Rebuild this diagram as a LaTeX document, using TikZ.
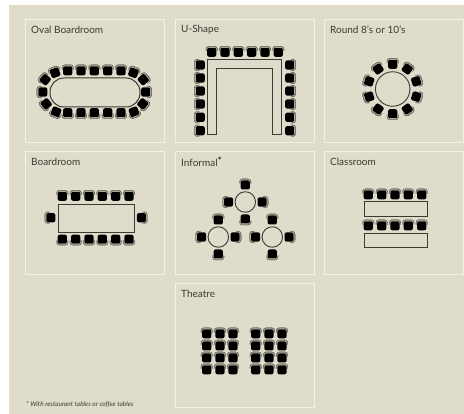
\documentclass[tikz,border=0pt]{standalone}
\usepackage{fontspec}
\setmainfont{Lato}
\definecolor{roombg}{HTML}{DFDCCB}
\definecolor{roomedge}{HTML}{F3F1E6}
\definecolor{ink}{HTML}{3C3A32}
\definecolor{chairback}{HTML}{9A978A}
\begin{document}
\begin{tikzpicture}[
            x=1pt,
            y=-1pt,
            panel/.style={
                draw=roomedge,
                line width=1pt,
                fill=roombg,
                anchor=north west,
                minimum width=139pt,
                minimum height=123pt,
                inner sep=0pt
            },
            title/.style={
                anchor=west,
                text=ink,
                inner sep=0pt,
                font=\fontsize{10}{12}\selectfont
            },
            desk/.style={
                rectangle,
                draw=ink,
                line width=1pt,
                anchor=north west,
                inner sep=0pt
            },
            roundtable/.style={
                circle,
                draw=ink,
                line width=0.9pt,
                inner sep=0pt
            },
            chair/.pic={
                \draw[chairback, line width=1.1pt, rounded corners=3pt]
                    (-5.5,-0.5) -- (-5.5,-5.2) -- (5.5,-5.2) -- (5.5,-0.5);
                \draw[ink, line width=0.3pt, rounded corners=3pt]
                    (-5.8,-2) -- (-5.8,-5.8) -- (5.8,-5.8) -- (5.8,-2);
                \fill[black, rounded corners=2pt] (-4.6,-4.2) rectangle (4.6,4.8);
            }
        ]

            \fill[white] (0,0) rectangle (464,414);
            \fill[roombg] (9,5) rectangle (464,414);
            \useasboundingbox (0,0) rectangle (464,414);

            \node[panel] (oval) at (25,19) {};
            \node[panel] (ushape) at (174.5,19) {};
            \node[panel] (round) at (323.5,19) {};
            \node[panel] (board) at (25,151) {};
            \node[panel] (informal) at (174.5,151) {};
            \node[panel] (class) at (323.5,151) {};
            \node[panel, minimum height=124pt] (theatre) at (174.5,283) {};

            \node[title] (ovallabel) at (31,30) {Oval Boardroom};
            \node[title] (ushapelabel) at (181,30) {U-Shape};
            \node[title] (roundlabel) at (330,30) {Round 8's or 10's};
            \node[title] (boardlabel) at (31,162) {Boardroom};
            \node[title] (informallabel) at (181,162) {Informal\raisebox{2pt}{\textbf{*}}};
            \node[title] (classlabel) at (330,162) {Classroom};
            \node[title] (theatrelabel) at (181,294) {Theatre};
            \node[title, font=\fontsize{6.5}{8}\selectfont\itshape] (note) at (26,404)
                {* With restaurant tables or coffee tables};

            \node[desk, anchor=center, rounded corners=14pt, minimum width=90pt, minimum height=29pt]
                (ovaltable) at (95,92.5) {};
            \foreach \x in {67.7,81,94.3,107.7,121} {
                \pic at (\x,70.5) {chair};
                \pic[rotate=180] at (\x,113) {chair};
            }
            \pic[rotate=20] at (55,72.5) {chair};
            \pic[rotate=-20] at (133.5,72.5) {chair};
            \pic[rotate=50] at (45,79.5) {chair};
            \pic[rotate=-50] at (143.5,79.5) {chair};
            \pic[rotate=90] at (42.5,92) {chair};
            \pic[rotate=-90] at (146,92) {chair};
            \pic[rotate=130] at (46,104) {chair};
            \pic[rotate=-130] at (143,104) {chair};
            \pic[rotate=160] at (56,112) {chair};
            \pic[rotate=-160] at (134,112) {chair};

            \draw[ink, line width=1pt] (207.5,60) -- (281.5,60) -- (281.5,135) -- (272.5,135)
                -- (272.5,68.5) -- (216,68.5) -- (216,135) -- (207.5,135) -- cycle;
            \foreach \x in {211.7,225,238.3,251.7,265,278.3} {
                \pic at (\x,52) {chair};
            }
            \foreach \y in {65,78,91,104,117.3,130.7} {
                \pic[rotate=90] at (200,\y) {chair};
                \pic[rotate=-90] at (290,\y) {chair};
            }

            \node[roundtable, minimum size=34.5pt] (roundtop) at (392.7,89) {};
            \foreach \a in {0,36,...,324} {
                \pic[rotate=\a] at ({392.7-25*sin(\a)},{89-25*cos(\a)}) {chair};
            }

            \node[desk, minimum width=75.5pt, minimum height=28.5pt] (boardtable) at (58.3,204) {};
            \foreach \x in {62.3,75.7,89,102.3,115.7,129} {
                \pic at (\x,196) {chair};
                \pic[rotate=180] at (\x,239.5) {chair};
            }
            \pic[rotate=90] at (50.5,217.7) {chair};
            \pic[rotate=-90] at (141.7,217.7) {chair};

            \node[roundtable, minimum size=20.5pt] (infotop) at (245.3,202) {};
            \node[roundtable, minimum size=20.5pt] (infoleft) at (218.3,237) {};
            \node[roundtable, minimum size=20.5pt] (inforight) at (272.3,237) {};
            \foreach \x/\y in {245.3/202,218.3/237,272.3/237} {
                \pic at (\x,\y-17.3) {chair};
                \pic[rotate=90] at (\x-17,\y) {chair};
                \pic[rotate=-90] at (\x+17,\y) {chair};
                \pic[rotate=180] at (\x,\y+17.3) {chair};
            }

            \node[desk, minimum width=63pt, minimum height=14.7pt] (classfront) at (363.7,201.3) {};
            \node[desk, minimum width=63pt, minimum height=14.5pt] (classback) at (363.7,232.7) {};
            \foreach \x in {368.3,381.7,395,408.3,421.7} {
                \pic at (\x,194.5) {chair};
                \pic at (\x,225.5) {chair};
            }

            \foreach \x in {206.7,220,233,255.7,269,282} {
                \foreach \y in {333.5,345.7,357.7,369.5} {
                    \pic at (\x,\y) {chair};
                }
            }

        \end{tikzpicture}
\end{document}
